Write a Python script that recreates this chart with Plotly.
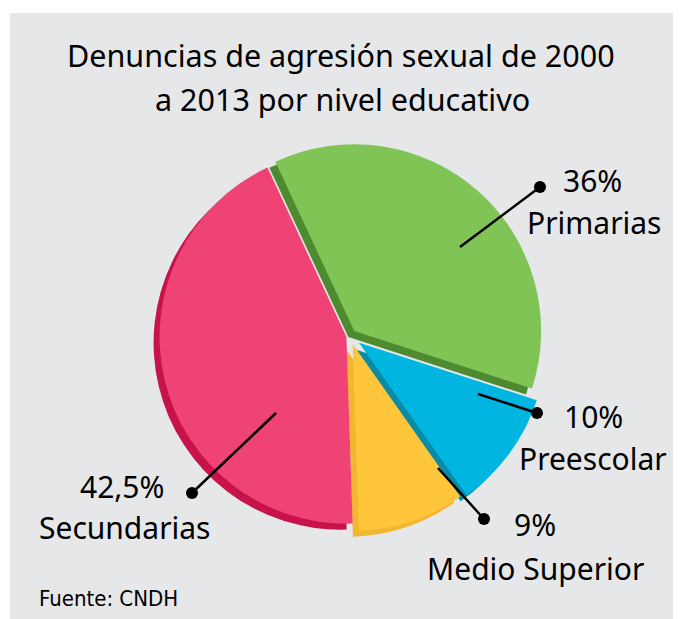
import plotly.graph_objects as go

# data
levels = ["Primarias", "Preescolar", "Medio Superior", "Secundarias"]
shares = [36, 10, 9, 42.5]
share_text = ["36%", "10%", "9%", "42,5%"]

colors = ["#80c455", "#00b6e0", "#ffc63c", "#ef4275"]
dark_colors = ["#4e8a2f", "#0b8aa6", "#f2b630", "#c8124a"]
pulls = [0.035, 0.06, 0.045, 0.02]

W, H = 681, 619
BG = "#e6e7e9"
OFF = 8  # page body margin


def px(x):
    return (x - OFF) / W


def py(y):
    return 1 - (y - OFF) / H


# pie geometry in screen pixels
cx, cy, side = 350, 336, 396
shift = 6

fig = go.Figure()

# darker copy behind, shifted down-left, gives the depth rim
fig.add_trace(go.Pie(
    labels=levels, values=shares, sort=False, direction="clockwise", rotation=-25,
    pull=pulls, marker=dict(colors=dark_colors), textinfo="none", hoverinfo="skip",
    showlegend=False,
    domain=dict(x=[px(cx - shift - side / 2), px(cx - shift + side / 2)],
                y=[py(cy + shift + side / 2), py(cy + shift - side / 2)]),
))
fig.add_trace(go.Pie(
    labels=levels, values=shares, sort=False, direction="clockwise", rotation=-25,
    pull=pulls, marker=dict(colors=colors), textinfo="none",
    text=share_text, hovertemplate="%{label}: %{text}<extra></extra>",
    showlegend=False,
    domain=dict(x=[px(cx - side / 2), px(cx + side / 2)],
                y=[py(cy + side / 2), py(cy - side / 2)]),
))

shapes = [dict(type="rect", xref="paper", yref="paper", x0=px(10), x1=1.05, y0=-0.05, y1=py(13),
               fillcolor=BG, line=dict(width=0), layer="below")]

# leader lines: (start inside slice, dot), label positions
leaders = [((460, 247), (540, 187)), ((478, 394), (537, 413)),
           ((438, 468), (484, 519)), ((276, 413), (192, 493))]
label_pos = [((592, 181), (594, 222)), ((593, 416), (593, 458)),
             ((535, 524), (535, 568)), ((122, 486), (124, 527))]

annotations = []
for (a, b), (p1, p2), name, txt in zip(leaders, label_pos, levels, share_text):
    shapes.append(dict(type="line", xref="paper", yref="paper",
                       x0=px(a[0]), y0=py(a[1]), x1=px(b[0]), y1=py(b[1]),
                       line=dict(color="black", width=2.5)))
    r = 6
    shapes.append(dict(type="circle", xref="paper", yref="paper",
                       x0=px(b[0] - r), x1=px(b[0] + r), y0=py(b[1] + r), y1=py(b[1] - r),
                       fillcolor="black", line=dict(width=0)))
    annotations.append(dict(x=px(p1[0]), y=py(p1[1]), xref="paper", yref="paper", text=txt,
                            showarrow=False, xanchor="center", yanchor="middle",
                            font=dict(size=30, color="black", family="Noto Sans")))
    annotations.append(dict(x=px(p2[0]), y=py(p2[1]), xref="paper", yref="paper", text=name,
                            showarrow=False, xanchor="center", yanchor="middle",
                            font=dict(size=30, color="black", family="Noto Sans")))

annotations.append(dict(x=px(341), y=py(55), xref="paper", yref="paper",
                        text="Denuncias de agresión sexual de 2000", showarrow=False,
                        xanchor="center", yanchor="middle",
                        font=dict(size=30.5, color="black", family="Noto Sans")))
annotations.append(dict(x=px(342), y=py(99), xref="paper", yref="paper",
                        text="a 2013 por nivel educativo", showarrow=False,
                        xanchor="center", yanchor="middle",
                        font=dict(size=30.5, color="black", family="Noto Sans")))
annotations.append(dict(x=px(37), y=py(598), xref="paper", yref="paper",
                        text="Fuente: CNDH", showarrow=False,
                        xanchor="left", yanchor="middle",
                        font=dict(size=22, color="black",
                                  family="Liberation Sans Narrow, DejaVu Sans Condensed, Noto Sans")))

fig.update_layout(
    width=W, height=H, margin=dict(l=0, r=0, t=0, b=0),
    paper_bgcolor="white", plot_bgcolor="white",
    shapes=shapes, annotations=annotations, showlegend=False,
)

fig.write_html("out.html")
